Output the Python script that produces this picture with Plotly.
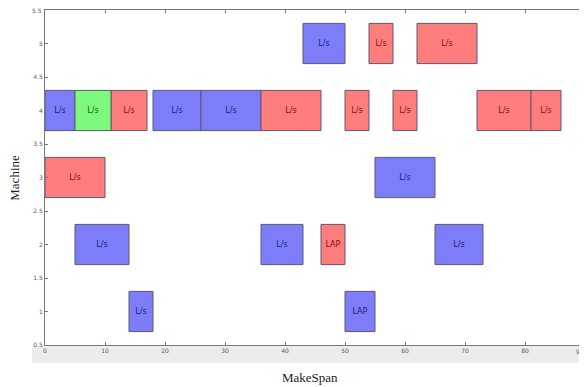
import plotly.graph_objects as go

# Operation data
machines = [5, 5, 5,
            4, 4, 4, 4, 4, 4, 4, 4, 4, 4,
            3, 3,
            2, 2, 2, 2,
            1, 1]
starts = [43, 54, 62,
          0, 5, 11, 18, 26, 36, 50, 58, 72, 81,
          0, 55,
          5, 36, 46, 65,
          14, 50]
ends = [50, 58, 72,
        5, 11, 17, 26, 36, 46, 54, 62, 81, 86,
        10, 65,
        14, 43, 50, 73,
        18, 55]
kinds = ["B", "R", "R",
         "B", "G", "R", "B", "B", "R", "R", "R", "R", "R",
         "R", "B",
         "B", "B", "R", "B",
         "B", "B"]
labels = ["L/s", "L/s", "L/s",
          "L/s", "L/s", "L/s", "L/s", "L/s", "L/s", "L/s", "L/s", "L/s", "L/s",
          "L/s", "L/s",
          "L/s", "L/s", "LAP", "L/s",
          "L/s", "LAP"]

x_ticks = [0, 10, 20, 30, 40, 50, 60, 70, 80, 90]
y_ticks = [0.5, 1, 1.5, 2, 2.5, 3, 3.5, 4, 4.5, 5, 5.5]
y_tick_text = ["0.5", "1", "1.5", "2", "2.5", "3", "3.5", "4", "4.5", "5", "5.5"]

styles = {
    "B": ("rgb(125,125,250)", "rgb(30,30,120)"),
    "R": ("rgb(255,125,125)", "rgb(120,20,20)"),
    "G": ("rgb(125,250,125)", "rgb(20,90,20)"),
}

fig = go.Figure()
for k, (fill, tcol) in styles.items():
    idx = [i for i, kk in enumerate(kinds) if kk == k]
    fig.add_trace(go.Bar(
        orientation="h",
        y=[machines[i] for i in idx],
        x=[ends[i] - starts[i] for i in idx],
        base=[starts[i] for i in idx],
        width=0.6,
        text=[labels[i] for i in idx],
        textposition="inside",
        insidetextanchor="middle",
        textangle=0,
        constraintext="none",
        textfont=dict(size=8, color=tcol, family="DejaVu Sans"),
        marker=dict(color=fill, line=dict(color="rgb(90,90,110)", width=1)),
        showlegend=False,
        hoverinfo="skip",
    ))

tick_font = dict(size=6, color="rgb(90,90,90)", family="DejaVu Sans")

fig.update_layout(
    width=579, height=379,
    margin=dict(l=37, r=2, t=2, b=42),
    paper_bgcolor="white",
    plot_bgcolor="white",
    barmode="overlay",
    uniformtext=dict(minsize=8, mode="show"),
    shapes=[dict(type="rect", xref="paper", yref="paper",
                 x0=-0.024, x1=1.004, y0=-0.054, y1=-0.002,
                 fillcolor="rgb(236,236,236)", line=dict(width=0), layer="below")],
    annotations=[
        dict(text="MakeSpan", xref="paper", yref="paper", x=0.49, y=-0.096,
             yanchor="middle", xanchor="center", showarrow=False,
             font=dict(family="Liberation Serif", size=13, color="#222")),
        dict(text="Machine", xref="paper", yref="paper", x=-0.057, y=0.5,
             xanchor="center", yanchor="middle", textangle=-90, showarrow=False,
             font=dict(family="Liberation Serif", size=13, color="#222")),
        # edge tick labels that plotly would otherwise drop
        dict(text=y_tick_text[-1], xref="paper", y=y_ticks[-1], yref="y", x=-0.004,
             xanchor="right", yanchor="middle", showarrow=False, font=tick_font,
             borderpad=0),
        dict(text=str(x_ticks[-1]), x=x_ticks[-1], xref="x", yref="paper", y=-0.006,
             xanchor="right", yanchor="top", showarrow=False, font=tick_font,
             borderpad=0),
    ],
)
axis_common = dict(
    showgrid=False, zeroline=False, showline=True, mirror="ticks",
    linecolor="rgb(120,120,120)", linewidth=1, automargin=False,
    ticks="inside", ticklen=3, tickcolor="rgb(120,120,120)",
    tickfont=tick_font,
)
fig.update_xaxes(range=[0, 90], tickvals=x_ticks, **axis_common)
fig.update_yaxes(range=[0.5, 5.5], tickvals=y_ticks, ticktext=y_tick_text, **axis_common)

fig.write_html("out.html")
